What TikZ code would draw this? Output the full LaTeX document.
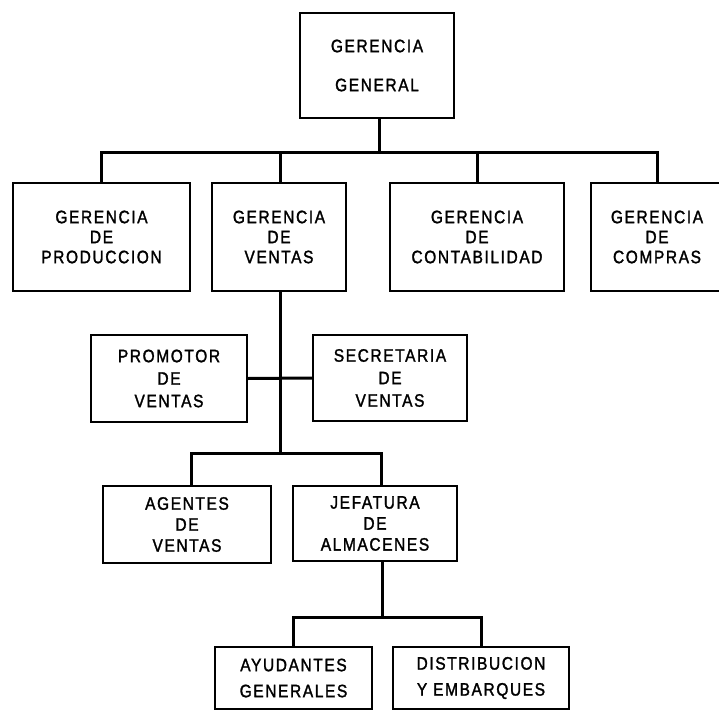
\documentclass[tikz,border=0pt]{standalone}
\usepackage{fontspec}
\setmainfont{Liberation Sans}[FakeStretch=0.86, LetterSpace=9, FakeBold=1.6]
\begin{document}
\begin{tikzpicture}[x=1pt,y=-1pt,
  box/.style={draw, line width=2.8pt, inner sep=0pt, outer sep=0pt, align=center},
  conn/.style={line width=3pt},
  fA/.style={font={\fontsize{18}{39}\selectfont}},
  fB/.style={font={\fontsize{18}{20}\selectfont}},
  fC/.style={font={\fontsize{18}{22.5}\selectfont}},
  fD/.style={font={\fontsize{18}{21}\selectfont}},
  fE/.style={font={\fontsize{18}{26}\selectfont}}]
\useasboundingbox (0,0) rectangle (719,710);
\clip (0,0) rectangle (719,710);

\node[box,fA,minimum width=154pt,minimum height=105pt] (gg) at (377,65.5) {GERENCIA\\GENERAL};

\node[box,fB,minimum width=177pt,minimum height=108pt] (prod) at (101.5,237) {GERENCIA\\DE\\PRODUCCION};
\node[box,fB,minimum width=134pt,minimum height=108pt] (vent) at (279,237) {GERENCIA\\DE\\VENTAS};
\node[box,fB,minimum width=174pt,minimum height=108pt] (cont) at (477,237) {GERENCIA\\DE\\CONTABILIDAD};
\node[box,fB,minimum width=132pt,minimum height=108pt] (comp) at (657,237) {GERENCIA\\DE\\COMPRAS};

\node[box,fC,minimum width=156pt,minimum height=87pt] (prom) at (169,378.5) {PROMOTOR\\DE\\VENTAS};
\node[box,fC,minimum width=154pt,minimum height=86pt] (secr) at (390,378) {SECRETARIA\\DE\\VENTAS};

\node[box,fD,minimum width=168pt,minimum height=77pt] (agen) at (187,524.5) {AGENTES\\DE\\VENTAS};
\node[box,fD,minimum width=164pt,minimum height=75pt] (jefa) at (375,523.5) {JEFATURA\\DE\\ALMACENES};

\node[box,fE,minimum width=157pt,minimum height=62pt] (ayud) at (293.5,678) {AYUDANTES\\GENERALES};
\node[box,fE,minimum width=176pt,minimum height=62pt] (dist) at (481,678) {DISTRIBUCION\\Y EMBARQUES};

\coordinate (b1) at (379,152);
\coordinate (b2) at (280,453);
\coordinate (b3) at (382,617);

\draw[conn] ([xshift=2pt]gg.south) -- ([xshift=2pt]gg.south |- b1);
\draw[conn] (prod.north) -- (prod.north |- b1) -| (comp.north);
\draw[conn] ([xshift=1pt]vent.north) -- ([xshift=1pt]vent.north |- b1);
\draw[conn] (cont.north) -- (cont.north |- b1);

\draw[conn] ([xshift=1pt]vent.south) -- ([xshift=1pt]vent.south |- b2);
\draw[conn] (prom.east) -- (secr.west);
\draw[conn] ([xshift=4pt]agen.north) -- ([xshift=4pt]agen.north |- b2) -| ([xshift=6pt]jefa.north);

\draw[conn] ([xshift=7pt]jefa.south) -- ([xshift=7pt]jefa.south |- b3);
\draw[conn] (ayud.north) -- (ayud.north |- b3) -| (dist.north);
\end{tikzpicture}
\end{document}
